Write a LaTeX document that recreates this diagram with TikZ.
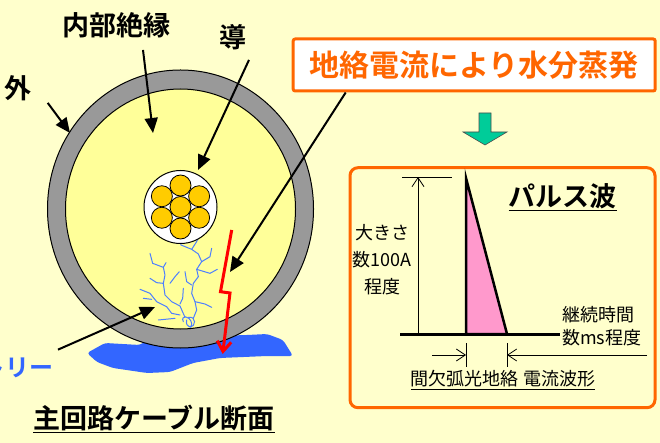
\documentclass[tikz,border=0pt]{standalone}
\usepackage{fontspec}
\setmainfont{Noto Sans CJK JP}[BoldFont={Noto Sans CJK JP Bold}]
\usetikzlibrary{arrows.meta,calc}

\definecolor{bgyellow}{HTML}{FFFFCC}
\definecolor{insulyellow}{HTML}{FFFF99}
\definecolor{sheathgray}{HTML}{999999}
\definecolor{strandgold}{HTML}{FFCC00}
\definecolor{treeblue}{HTML}{4D7FFF}
\definecolor{waterblue}{HTML}{3366FF}
\definecolor{accent}{HTML}{FF6600}
\definecolor{downgreen}{HTML}{00CC99}
\definecolor{pulsepink}{HTML}{FF99CC}

\begin{document}
\begin{tikzpicture}[
    x=1pt, y=-1pt,
    lbl/.style={font=\fontsize{27}{30}\selectfont\bfseries, inner sep=0pt},
    small/.style={font=\fontsize{18}{27}\selectfont, inner sep=0pt, align=center},
    ptr/.style={-{Triangle[length=15pt,width=13pt]}, line width=2pt},
    dim/.style={-{Straight Barb[length=9pt,width=12pt]}, line width=0.8pt},
    tree/.style={treeblue, line width=1pt, line join=round, line cap=round}
]
\fill[bgyellow] (0,0) rectangle (660,443);
\useasboundingbox (0,0) rectangle (660,443);

% water under the cable
\fill[waterblue, rounded corners=3pt] (87,353) -- (105,343) -- (140,345) -- (150,338) -- (247,335) -- (267,334)
    -- (283,340) -- (293,356) -- (267,356) -- (220,358) -- (193,363) -- (170,372) -- (147,373)
    -- (113,368) -- (97,362) -- cycle;

% cable cross section
\coordinate (cc) at (180.5,209);
\filldraw[fill=sheathgray, line width=1pt] (cc) ellipse [x radius=133pt, y radius=139pt];
\filldraw[fill=insulyellow, line width=1pt] (cc) ellipse [x radius=115pt, y radius=120pt];

% water tree
\begin{scope}[shift={(130,230)}, scale=1/3]
  \draw[tree] (150,20) -- (153,45) -- (185,58) -- (198,38) -- (205,25);
  \draw[tree] (185,58) -- (205,72) -- (215,95) -- (200,118) -- (205,140) -- (190,160) -- (185,190) -- (195,215) -- (200,240) -- (190,265);
  \draw[tree] (245,55) -- (240,80) -- (215,95);
  \draw[tree] (200,118) -- (240,130) -- (262,118);
  \draw[tree] (195,215) -- (225,222) -- (245,232);
  \draw[tree] (60,70) -- (68,100) -- (100,112) -- (108,98);
  \draw[tree] (100,112) -- (105,135) -- (100,160) -- (105,195) -- (125,215) -- (150,228) -- (165,262);
  \draw[tree] (60,145) -- (80,158) -- (100,160);
  \draw[tree] (148,125) -- (135,140) -- (120,160);
  \draw[tree] (165,125) -- (170,155) -- (185,165);
  \draw[tree] (30,178) -- (60,190) -- (80,215) -- (110,230) -- (125,250) -- (150,255);
  \draw[tree] (40,205) -- (65,208);
  \draw[tree] (85,270) -- (135,265);
  \draw[tree] (160,175) -- (158,205) -- (150,222);
  \draw[tree] (160,275) .. controls (150,255) and (180,255) .. (185,280) .. controls (190,295) and (165,295) .. (170,270);
  \draw[tree] (175,262) .. controls (200,258) and (198,290) .. (180,292);
\end{scope}

% conductor strands
\coordinate (core) at (180.5,207);
\filldraw[fill=white, line width=1pt] (core) circle [radius=36.5pt];
\filldraw[fill=strandgold, line width=0.8pt] (core) circle [radius=10.5pt];
\foreach \a in {30,90,...,330}
  \filldraw[fill=strandgold, line width=0.8pt] ($(core)+(\a:21.5)$) circle [radius=10.5pt];

% discharge path
\draw[red, line width=3pt, -{Straight Barb[length=10pt,width=14pt]}] (231.7,230) -- (220.5,291.7) -- (230,293) -- (222.7,354);

% labels and pointers
\node[lbl] (insul) at (116,25) {内部絶縁};
\node[lbl] (outer) at (18,88) {外};
\node[lbl] (cond) at (233,37) {導};
\node[lbl, font=\fontsize{24}{26}\selectfont\bfseries, text=waterblue, anchor=east] (wtree) at (54,368) {トリー};
\node[draw=accent, line width=3pt, fill=white, rounded corners=2pt, minimum width=362pt, minimum height=52pt,
    inner sep=0pt, text=accent, font=\fontsize{30}{32}\selectfont\bfseries] (evap) at (474.2,65) {地絡電流により水分蒸発};
\node[lbl] (title) at (154,419) {\underline{主回路ケーブル断面}};

\coordinate (insultip) at (153,133);
\coordinate (outertip) at (70,133);
\coordinate (condtip) at (198,170);
\coordinate (evaptip) at (230,272);
\coordinate (treetip) at (155,307);
\draw[ptr] ($(insul.south)+(27,12)$) -- (insultip);
\draw[ptr] ($(outer.south east)+(16,2)$) -- (outertip);
\draw[ptr] ($(cond.south)+(16,10)$) -- (condtip);
\draw[ptr] ($(evap.south west)+(54,0)$) -- (evaptip);
\draw[ptr] ($(wtree.north east)+(4,-8)$) -- (treetip);

% down arrow
\filldraw[fill=downgreen, draw=black!70, line width=0.6pt] (479,113) -- (491,113) -- (491,132) -- (507,132)
    -- (485,145) -- (463,132) -- (479,132) -- cycle;

% pulse panel
\node[draw=accent, line width=3pt, rounded corners=8pt, minimum width=305pt, minimum height=240pt, inner sep=0pt] (panel) at (502.5,287.7) {};
\node[lbl] (pulse) at (562.5,197) {\underline{パルス波}};

\coordinate (peak) at (466,178);
\coordinate (rise) at (466,334);
\coordinate (fall) at (507,334);
\filldraw[fill=pulsepink, line width=2.5pt] (peak) -- (rise) -- (fall) -- cycle;
\draw[line width=3pt] (400,334) -- (560,334);

\draw[line width=0.8pt] (402,177) -- (452,177);
\draw[dim, {Straight Barb[length=9pt,width=12pt]}-] (418,177) -- (418,334);
\draw[line width=0.8pt] (rise) ++(0,9) -- ++(0,24);
\draw[line width=0.8pt] (fall) ++(0,9) -- ++(0,24);
\draw[dim] (432,355) -- (466,355);
\draw[dim] (647,355) -- (507,355);

\node[small] (amp) at (382,260) {大きさ\\数100A\\程度};
\node[small, align=left, anchor=west, font=\fontsize{18}{23}\selectfont] (dur) at (562,326) {継続時間\\数ms程度};
\node[small] (wave) at (503,380) {\underline{間欠弧光地絡 電流波形}};
\end{tikzpicture}
\end{document}
